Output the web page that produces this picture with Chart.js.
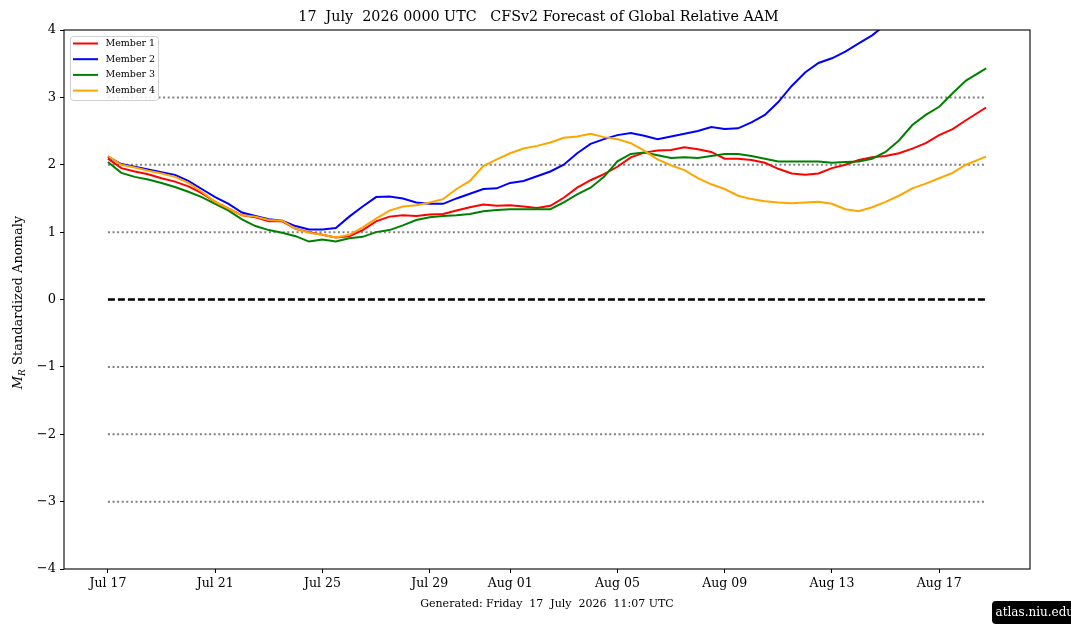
<!DOCTYPE html>
<html>
<head>
<meta charset="utf-8">
<script src="https://cdn.jsdelivr.net/npm/chart.js@4.4.1/dist/chart.umd.min.js"></script>
<style>
  html, body { margin: 0; padding: 0; background: #fff; }
  #wrap { position: relative; width: 1071px; height: 638px; }
</style>
</head>
<body>
<div id="wrap"><canvas id="aam" width="1071" height="638"></canvas></div>
<script>
// dias desde 17 Jul 00Z (passo de 12 h, último ponto no fim da previsão)
const dias = [
  0, 0.5, 1, 1.5, 2, 2.5, 3, 3.5, 4, 4.5,
  5, 5.5, 6, 6.5, 7, 7.5, 8, 8.5, 9, 9.5,
  10, 10.5, 11, 11.5, 12, 12.5, 13, 13.5, 14, 14.5,
  15, 15.5, 16, 16.5, 17, 17.5, 18, 18.5, 19, 19.5,
  20, 20.5, 21, 21.5, 22, 22.5, 23, 23.5, 24, 24.5,
  25, 25.5, 26, 26.5, 27, 27.5, 28, 28.5, 29, 29.5,
  30, 30.5, 31, 31.5, 32, 32.75
];

const membro1 = [
  2.09, 1.95, 1.90, 1.86, 1.80, 1.75, 1.68, 1.58, 1.45, 1.35,
  1.25, 1.22, 1.16, 1.16, 1.05, 1.00, 0.96, 0.92, 0.94, 1.03,
  1.16, 1.23, 1.25, 1.24, 1.26, 1.27, 1.32, 1.37, 1.41, 1.39,
  1.40, 1.38, 1.36, 1.39, 1.51, 1.66, 1.77, 1.86, 1.97, 2.11,
  2.18, 2.21, 2.22, 2.26, 2.23, 2.19, 2.09, 2.09, 2.07, 2.03,
  1.94, 1.87, 1.85, 1.87, 1.95, 2.00, 2.07, 2.11, 2.13, 2.17,
  2.24, 2.32, 2.44, 2.53, 2.66, 2.85
];

// membro 2 sai pelo topo do gráfico; depois disso não se lê nada
const membro2 = [
  2.12, 2.01, 1.97, 1.93, 1.89, 1.85, 1.76, 1.64, 1.52, 1.42,
  1.29, 1.24, 1.19, 1.17, 1.09, 1.04, 1.04, 1.06, 1.23, 1.38,
  1.52, 1.53, 1.50, 1.44, 1.42, 1.42, 1.50, 1.57, 1.64, 1.65,
  1.73, 1.76, 1.83, 1.90, 2.00, 2.17, 2.31, 2.38, 2.44, 2.47,
  2.43, 2.38, 2.42, 2.46, 2.50, 2.56, 2.53, 2.54, 2.63, 2.74,
  2.93, 3.17, 3.37, 3.51, 3.58, 3.68, 3.80, 3.92, 4.08, null,
  null, null, null, null, null, null
];

const membro3 = [
  2.04, 1.88, 1.82, 1.78, 1.73, 1.67, 1.60, 1.52, 1.42, 1.32,
  1.19, 1.09, 1.03, 0.99, 0.94, 0.86, 0.89, 0.86, 0.91, 0.93,
  1.00, 1.03, 1.10, 1.18, 1.22, 1.24, 1.25, 1.27, 1.31, 1.33,
  1.34, 1.34, 1.34, 1.34, 1.44, 1.56, 1.66, 1.82, 2.05, 2.16,
  2.18, 2.14, 2.10, 2.11, 2.10, 2.13, 2.16, 2.16, 2.13, 2.09,
  2.05, 2.05, 2.05, 2.05, 2.03, 2.04, 2.05, 2.09, 2.19, 2.36,
  2.59, 2.74, 2.86, 3.06, 3.25, 3.43
];

const membro4 = [
  2.13, 2.00, 1.96, 1.91, 1.87, 1.82, 1.73, 1.60, 1.45, 1.35,
  1.25, 1.23, 1.18, 1.17, 1.05, 0.99, 0.96, 0.92, 0.96, 1.07,
  1.20, 1.32, 1.38, 1.40, 1.44, 1.49, 1.64, 1.76, 1.98, 2.08,
  2.17, 2.24, 2.28, 2.33, 2.40, 2.42, 2.46, 2.41, 2.38, 2.32,
  2.21, 2.08, 1.99, 1.92, 1.80, 1.71, 1.64, 1.54, 1.49, 1.46,
  1.44, 1.43, 1.44, 1.45, 1.42, 1.34, 1.31, 1.37, 1.45, 1.54,
  1.65, 1.72, 1.80, 1.88, 2.00, 2.12
];

const nomesMembros = ["Member 1", "Member 2", "Member 3", "Member 4"];
const coresMembros = ["#ff0000", "#0000ff", "#008000", "#ffa500"];

// linhas de referência (pontilhadas) e zero (tracejada)
const niveisRef = [-3, -2, -1, 1, 2, 3];

// rótulos do eixo x
const diasTicks = [0, 4, 8, 12, 15, 19, 23, 27, 31];
const rotulosTicks = ["Jul 17", "Jul 21", "Jul 25", "Jul 29", "Aug 01", "Aug 05", "Aug 09", "Aug 13", "Aug 17"];

const titulo = "17  July  2026 0000 UTC   CFSv2 Forecast of Global Relative AAM";
const rodape = "Generated: Friday  17  July  2026  11:07 UTC";
const FONTE = "'DejaVu Serif', 'Liberation Serif', serif";

Chart.defaults.font.family = FONTE;
Chart.defaults.color = "#000";

const serie = (ys) => dias.map((d, i) => ({ x: d, y: ys[i] }));
const inicio = dias[0];
const fim = dias[dias.length - 1];

const datasets = [];

niveisRef.forEach(n => {
  datasets.push({
    label: "ref" + n,
    data: [{ x: inicio, y: n }, { x: fim, y: n }],
    borderColor: "#808080",
    borderWidth: 2,
    borderDash: [2, 2.6],
    pointRadius: 0,
    order: 10
  });
});

datasets.push({
  label: "zero",
  data: [{ x: inicio, y: 0 }, { x: fim, y: 0 }],
  borderColor: "#000",
  borderWidth: 2.5,
  borderDash: [7, 3],
  pointRadius: 0,
  order: 9
});

[membro1, membro2, membro3, membro4].forEach((m, i) => {
  datasets.push({
    label: nomesMembros[i],
    membro: true,
    data: serie(m),
    borderColor: coresMembros[i],
    borderWidth: 2,
    pointRadius: 0,
    tension: 0,
    spanGaps: false,
    order: 4 - i
  });
});

// desenha título, rótulo do eixo y, legenda, moldura e rodapé
const extras = {
  id: "extras",
  afterDraw(chart) {
    const ctx = chart.ctx;
    const a = chart.chartArea;
    ctx.save();

    // moldura
    ctx.strokeStyle = "#000";
    ctx.lineWidth = 1.1;
    ctx.strokeRect(a.left, a.top, a.right - a.left, a.bottom - a.top);

    // título (centrado na figura)
    ctx.fillStyle = "#000";
    ctx.textAlign = "center";
    ctx.textBaseline = "middle";
    ctx.font = "14.3px " + FONTE;
    ctx.fillText(titulo, 538.5, 17);

    // rodapé
    ctx.font = "11px " + FONTE;
    ctx.fillText(rodape, (a.left + a.right) / 2, 604);

    // rótulo do eixo y: M_R Standardized Anomaly
    const fM = "italic 13px " + FONTE;
    const fR = "italic 9px " + FONTE;
    const fT = "13px " + FONTE;
    const resto = " Standardized Anomaly";
    ctx.font = fM; const wM = ctx.measureText("M").width;
    ctx.font = fR; const wR = ctx.measureText("R").width;
    ctx.font = fT; const wT = ctx.measureText(resto).width;
    const total = wM + wR + wT;
    ctx.translate(17, (a.top + a.bottom) / 2 + 3);
    ctx.rotate(-Math.PI / 2);
    ctx.textAlign = "left";
    ctx.textBaseline = "alphabetic";
    let px = -total / 2;
    ctx.font = fM; ctx.fillText("M", px, 5); px += wM;
    ctx.font = fR; ctx.fillText("R", px, 8); px += wR;
    ctx.font = fT; ctx.fillText(resto, px, 5);
    ctx.setTransform(1, 0, 0, 1, 0, 0);
    ctx.scale(chart.currentDevicePixelRatio, chart.currentDevicePixelRatio);

    // legenda
    const lx = a.left + 6.5, ly = a.top + 6.5, lw = 88, lh = 64;
    ctx.beginPath();
    ctx.roundRect(lx, ly, lw, lh, 3);
    ctx.fillStyle = "rgba(255,255,255,0.85)";
    ctx.fill();
    ctx.strokeStyle = "#d0d0d0";
    ctx.lineWidth = 1;
    ctx.stroke();
    const membros = chart.data.datasets.filter(d => d.membro);
    ctx.font = "9.5px " + FONTE;
    ctx.textBaseline = "middle";
    ctx.textAlign = "left";
    membros.forEach((d, i) => {
      const yy = ly + 7 + i * 15.7;
      ctx.strokeStyle = d.borderColor;
      ctx.lineWidth = 2;
      ctx.beginPath();
      ctx.moveTo(lx + 2.5, yy);
      ctx.lineTo(lx + 27.5, yy);
      ctx.stroke();
      ctx.fillStyle = "#000";
      ctx.fillText(d.label, lx + 35, yy);
    });

    // selo no canto inferior direito
    ctx.beginPath();
    ctx.roundRect(992, 601, 90, 23, 4);
    ctx.fillStyle = "#000";
    ctx.fill();
    ctx.fillStyle = "#fff";
    ctx.font = "12px " + FONTE;
    ctx.fillText("atlas.niu.edu", 995.5, 613);

    ctx.restore();
  }
};

new Chart(document.getElementById("aam"), {
  type: "line",
  data: { datasets },
  options: {
    responsive: false,
    animation: false,
    devicePixelRatio: 1,
    layout: { padding: { left: 0, top: 30, right: 41, bottom: 0 } },
    plugins: {
      legend: { display: false },
      title: { display: false },
      tooltip: { enabled: false }
    },
    scales: {
      x: {
        type: "linear",
        min: -1.6375,
        max: 34.3875,
        afterFit: (s) => { s.height = 69; },
        afterBuildTicks: (s) => { s.ticks = diasTicks.map(v => ({ value: v })); },
        ticks: {
          autoSkip: false,
          maxRotation: 0,
          padding: 3,
          font: { size: 12.5 },
          callback: (v) => rotulosTicks[diasTicks.indexOf(v)]
        },
        grid: { drawOnChartArea: false, drawTicks: true, tickLength: 4, color: "#000", lineWidth: 1 },
        border: { display: false }
      },
      y: {
        min: -4,
        max: 4,
        afterFit: (s) => { s.width = 64; },
        ticks: {
          stepSize: 1,
          padding: 4,
          font: { size: 13 },
          callback: (v) => (v < 0 ? "\u2212" + Math.abs(v) : String(v))
        },
        grid: { drawOnChartArea: false, drawTicks: true, tickLength: 4, color: "#000", lineWidth: 1 },
        border: { display: false }
      }
    }
  },
  plugins: [extras]
});
</script>
</body>
</html>
